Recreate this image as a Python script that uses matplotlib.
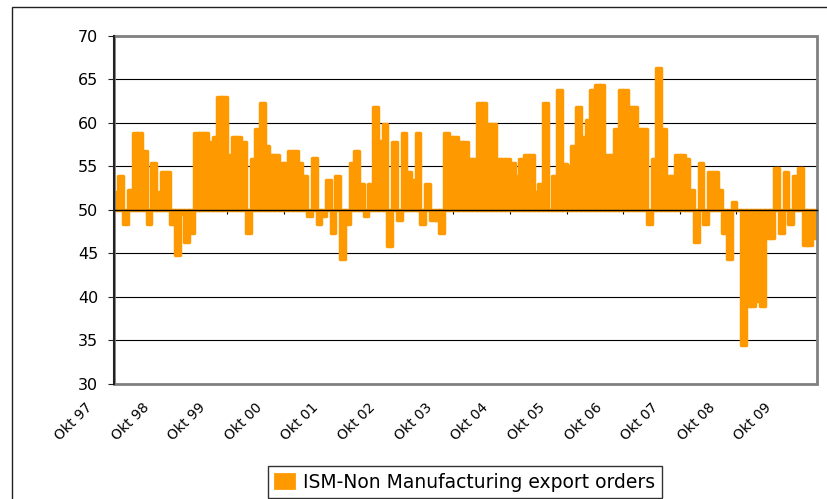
import matplotlib
matplotlib.use("Agg")
import matplotlib.pyplot as plt
from matplotlib.patches import Patch, Rectangle
from matplotlib.transforms import offset_copy, blended_transform_factory
import numpy as np

# monthly index values, Okt 97 .. Feb 10
y1997 = [52.0, 53.9, 48.3, 52.3, 58.8, 58.8, 56.8, 48.3, 55.4, 52.0, 54.3, 54.3]
y1998 = [48.3, 44.8, 49.5, 46.3, 47.3, 58.8, 58.8, 58.8, 57.8, 58.3, 62.9, 62.9]
y1999 = [56.3, 58.3, 58.3, 57.8, 47.3, 55.8, 59.3, 62.3, 57.3, 56.3, 56.3, 55.4]
y2000 = [55.4, 56.8, 56.8, 55.4, 53.9, 49.3, 55.9, 48.3, 49.3, 53.4, 47.3, 53.9]
y2001 = [44.3, 48.3, 55.4, 56.8, 52.9, 49.3, 52.9, 61.8, 57.9, 59.8, 45.8, 57.8]
y2002 = [48.8, 58.8, 54.3, 53.4, 58.8, 48.3, 52.9, 48.8, 48.8, 47.3, 58.8, 58.3]
y2003 = [58.3, 57.8, 57.8, 55.8, 55.8, 62.3, 62.3, 59.8, 59.8, 55.8, 55.8, 55.8]
y2004 = [55.4, 53.9, 55.8, 56.3, 56.3, 52.0, 52.9, 62.3, 50.0, 53.9, 63.8, 55.3]
y2005 = [55.0, 57.3, 61.8, 58.4, 60.3, 63.8, 64.3, 64.3, 56.3, 56.3, 59.3, 63.8]
y2006 = [63.8, 61.8, 61.8, 59.3, 59.3, 48.3, 55.8, 66.3, 59.3, 53.9, 53.9, 56.3]
y2007 = [56.3, 55.8, 52.3, 46.3, 55.4, 48.3, 54.3, 54.3, 52.3, 47.3, 44.3, 50.9]
y2008 = [50.0, 34.5, 38.9, 38.9, 39.5, 38.9, 46.8, 46.8, 54.8, 47.3, 54.3, 48.3]
y2009 = [53.9, 54.8, 45.9, 45.9, 46.8]

values = (y1997 + y1998 + y1999 + y2000 + y2001 + y2002 + y2003 + y2004
          + y2005 + y2006 + y2007 + y2008 + y2009)
year_labels = ["Okt %02d" % (y % 100) for y in range(1997, 2010)]
series_name = "ISM-Non Manufacturing export orders"

ORANGE = "#FF9900"
plt.rcParams["font.family"] = ["DejaVu Sans"]

fig = plt.figure(figsize=(8.28, 4.99), dpi=100)
W, H = 828.0, 499.0
ax = fig.add_axes([113.7 / W, 1 - 383.7 / H, (816.7 - 113.7) / W, (383.7 - 35.7) / H])

x = np.arange(len(values))
v = np.array(values)
ax.bar(x, v - 50, bottom=50, width=1.0, color=ORANGE, edgecolor=ORANGE,
       linewidth=2.5, joinstyle="round", zorder=3)

ax.set_xlim(-0.5, len(values) - 0.5)
ax.set_ylim(30, 70)
ax.set_yticks(np.arange(30, 71, 5))
ax.set_axisbelow(True)
ax.yaxis.grid(True, color="black", linewidth=0.8)

# category axis crosses at 50
ax.spines["bottom"].set_position(("data", 50))
ax.spines["bottom"].set_color("black")
ax.spines["bottom"].set_linewidth(1.0)
ax.spines["bottom"].set_zorder(5)
ax.spines["left"].set_color("#222222")
ax.spines["left"].set_linewidth(1.5)
ax.spines["left"].set_zorder(6)
ax.spines["top"].set_visible(False)
ax.spines["right"].set_visible(False)
ax.add_patch(Rectangle((0, 0), 1, 1, transform=ax.transAxes, fill=False,
                       edgecolor="#808080", linewidth=2, zorder=4, clip_on=False))

ax.set_xticks(np.arange(11.5, len(values), 12))
ax.tick_params(axis="x", length=3, direction="out", color="black", labelbottom=False)
ax.tick_params(axis="y", length=4.3, direction="out", color="#222222",
               labelsize=11.5, pad=7)

trans = blended_transform_factory(ax.transData, ax.transAxes)
trans = offset_copy(trans, fig=fig, x=-26, y=-22, units="dots")
for k, lab in enumerate(year_labels):
    ax.text(12 * k, 0, lab, transform=trans, rotation=45, ha="right", va="center",
            rotation_mode="anchor", fontsize=10)

handle = Patch(facecolor=ORANGE, edgecolor=ORANGE, linewidth=2, joinstyle="round")
leg = ax.legend(handles=[handle], labels=[series_name], loc="center",
                bbox_to_anchor=(465 / W, 1 - 482 / H), bbox_transform=fig.transFigure,
                frameon=True, fancybox=False, edgecolor="black", fontsize=13.5,
                borderpad=0.35, handlelength=1.0, handleheight=0.75, handletextpad=0.5)
leg.get_frame().set_linewidth(1.0)

# outer chart border
fig.patches.append(Rectangle((12 / W, -0.05), 1.0, 1.05 - 7 / H, transform=fig.transFigure,
                             fill=False, edgecolor="#222222", linewidth=1.0))

fig.savefig("out.png", dpi=100)
